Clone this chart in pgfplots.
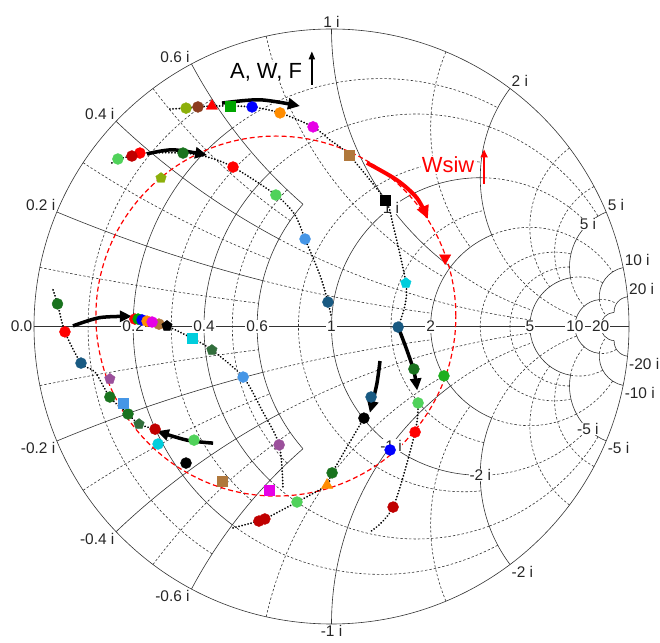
\documentclass[border=0pt]{standalone}
\usepackage{pgfplots}
\pgfplotsset{compat=1.18}
\usetikzlibrary{arrows.meta}
\usepackage{fontspec}
\setmainfont{Liberation Sans}
\definecolor{cred}{RGB}{255,0,0}
\definecolor{cdred}{RGB}{192,0,0}
\definecolor{clgreen}{RGB}{80,210,90}
\definecolor{cgreen}{RGB}{0,165,0}
\definecolor{cmgreen}{RGB}{30,175,30}
\definecolor{cdgreen}{RGB}{25,115,30}
\definecolor{csgreen}{RGB}{50,110,60}
\definecolor{colive}{RGB}{140,175,10}
\definecolor{cbrownD}{RGB}{140,60,30}
\definecolor{cbrownL}{RGB}{176,120,60}
\definecolor{cblue}{RGB}{0,0,255}
\definecolor{clblue}{RGB}{70,150,230}
\definecolor{cteal}{RGB}{25,90,130}
\definecolor{corange}{RGB}{255,140,0}
\definecolor{cmag}{RGB}{230,0,230}
\definecolor{cpurple}{RGB}{155,80,155}
\definecolor{ccyan}{RGB}{0,205,220}
\newcommand\rarc[4][gmaj]{%
  \pgfmathsetmacro\gC{(#2)/(1+(#2))}%
  \pgfmathsetmacro\gR{1/(1+(#2))}%
  \pgfmathsetmacro\gA{180-2*atan((#3)/(1+(#2)))}%
  \pgfmathsetmacro\gB{180-2*atan((#4)/(1+(#2)))}%
  \draw[#1] (\gC,0) ++(\gA:\gR) arc[start angle=\gA, end angle=\gB, radius=\gR];}
\newcommand\xarc[4][gmaj]{%
  \pgfmathsetmacro\gC{1/(#2)}%
  \pgfmathsetmacro\gR{abs(1/(#2))}%
  \pgfmathsetmacro\gS{(#2)>0 ? -90 : 90}%
  \pgfmathsetmacro\gA{\gS-2*atan((#2)/(1+(#3)))}%
  \pgfmathsetmacro\gB{\gS-2*atan((#2)/(1+(#4)))}%
  \draw[#1] (1,\gC) ++(\gA:\gR) arc[start angle=\gA, end angle=\gB, radius=\gR];}
\begin{document}
\begin{tikzpicture}[
  gmaj/.style={draw=black!80, line width=0.6bp},
  gmin/.style={draw=black!80, line width=0.6bp, dash pattern=on 2.4bp off 2bp},
  lab/.style={font=\fontsize{15.5}{17}\selectfont, text=black!85, inner sep=1.5bp},
  dots/.style={smooth, tension=0.5, black, line width=2bp, line cap=round, dash pattern=on 0.01bp off 3.1bp},
  bigarr/.style={smooth, black, line width=3.5bp, -{Triangle[length=12bp,width=11bp]}}]
\begin{scope}[shift={(297.5bp,297.5bp)}, x=297.5bp, y=297.5bp]
  % zone 1
  \foreach \v in {0.1,0.3,0.5}{\rarc[gmin]{\v}{-0.6}{0.6}}
  \foreach \v in {0.1,0.3,0.5,-0.1,-0.3,-0.5}{\xarc[gmin]{\v}{0}{0.6}}
  \foreach \v in {0.2,0.4,0.6}{\rarc[gmaj]{\v}{-0.6}{0.6}}
  \foreach \v in {0.2,0.4,0.6,-0.2,-0.4,-0.6}{\xarc[gmaj]{\v}{0}{0.6}}
  % zone 2
  \foreach \v in {0.2,0.4}{\rarc[gmin]{\v}{0.6}{2}\rarc[gmin]{\v}{-2}{-0.6}}
  \foreach \v in {0.2,0.4,-0.2,-0.4}{\xarc[gmin]{\v}{0.6}{2}}
  \foreach \v in {0.8,1.5}{\rarc[gmin]{\v}{-2}{2}}
  \foreach \v in {0.8,1.5,-0.8,-1.5}{\xarc[gmin]{\v}{0}{2}}
  \foreach \v in {1,2}{\rarc[gmaj]{\v}{-2}{2}}
  \foreach \v in {1,2,-1,-2}{\xarc[gmaj]{\v}{0}{2}}
  % zone 3
  \foreach \v in {3,4}{\rarc[gmin]{\v}{-5}{5}}
  \foreach \v in {3,4,-3,-4}{\xarc[gmin]{\v}{0}{5}}
  \foreach \v in {0.4,1,2}{\rarc[gmin]{\v}{2}{5}\rarc[gmin]{\v}{-5}{-2}}
  \foreach \v in {0.4,1,2,-0.4,-1,-2}{\xarc[gmin]{\v}{2}{5}}
  \rarc[gmaj]{5}{-5}{5}
  \foreach \v in {5,-5}{\xarc[gmaj]{\v}{0}{5}}
  % zone 4
  \foreach \v in {2,5}{\rarc[gmin]{\v}{5}{10}\rarc[gmin]{\v}{-10}{-5}}
  \foreach \v in {2,5,-2,-5}{\xarc[gmin]{\v}{5}{10}}
  \rarc[gmaj]{10}{-10}{10}
  \foreach \v in {10,-10}{\xarc[gmaj]{\v}{0}{10}}
  % zone 5
  \rarc[gmin]{10}{10}{20}\rarc[gmin]{10}{-20}{-10}
  \foreach \v in {10,-10}{\xarc[gmin]{\v}{10}{20}}
  \rarc[gmaj]{20}{-20}{20}
  \foreach \v in {20,-20}{\xarc[gmaj]{\v}{0}{20}}
  % rim and real axis
  \draw[gmaj] (0,0) circle[radius=1];
  \draw[gmaj] (-1,0) -- (1,0);
  % reference circle
  \draw[cred, line width=1.2bp, dash pattern=on 5bp off 3bp] (-0.187,0.035) circle[radius=0.605];
  % real axis labels
  \node[lab, anchor=east] at (-1,0) {0.0};
  \foreach \g/\t in {-0.6667/0.2, -0.4286/0.4, -0.25/0.6, 0/1, 0.3333/2, 0.6667/5, 0.8182/10, 0.9048/20}
    {\node[lab, fill=white, inner sep=1bp] at (\g,0) {\t};}
  % rim labels
  \node[lab, anchor=south east] at (-0.923,0.385) {0.2 i};
  \node[lab, anchor=south east] at (-0.724,0.690) {0.4 i};
  \node[lab, anchor=south east] at (-0.471,0.882) {0.6 i};
  \node[lab, anchor=south] at (0,1) {1 i};
  \node[lab, anchor=south west] at (0.6,0.8) {2 i};
  \node[lab, anchor=south west] at (0.923,0.385) {5 i};
  \node[lab, anchor=south west] at (0.980,0.198) {10 i};
  \node[lab, anchor=south west] at (0.995,0.0997) {20 i};
  \node[lab, anchor=north east] at (-0.923,-0.385) {-0.2 i};
  \node[lab, anchor=north east] at (-0.724,-0.690) {-0.4 i};
  \node[lab, anchor=north east] at (-0.471,-0.882) {-0.6 i};
  \node[lab, anchor=north] at (0,-1) {-1 i};
  \node[lab, anchor=north west] at (0.6,-0.8) {-2 i};
  \node[lab, anchor=north west] at (0.923,-0.385) {-5 i};
  \node[lab, anchor=north west] at (0.980,-0.198) {-10 i};
  \node[lab, anchor=north west] at (0.995,-0.0997) {-20 i};
  % inner labels on r = 1
  \node[lab, fill=white, inner sep=0.6bp] at (0.2,0.4) {1 i};
  \node[lab, fill=white, inner sep=0.6bp] at (0.2,-0.4) {-1 i};
  \node[lab, fill=white, inner sep=0.6bp] at (0.5,-0.5) {-2 i};
  \node[lab, fill=white, inner sep=0.6bp] at (0.862,0.345) {5 i};
  \node[lab, fill=white, inner sep=0.6bp] at (0.862,-0.345) {-5 i};
\end{scope}
\begin{axis}[at={(0,0)}, anchor=south west, width=595bp, height=595bp,
  scale only axis, xmin=-1, xmax=1, ymin=-1, ymax=1, hide axis, clip=false]
% dotted paths
\addplot[dots] coordinates {(-0.543,0.731) (-0.489,0.734) (-0.449,0.738) (-0.402,0.741) (-0.341,0.741) (-0.267,0.738) (-0.173,0.718) (-0.062,0.671) (-0.005,0.627) (0.059,0.576) (0.180,0.425) (0.207,0.341) (0.250,0.146) (0.247,0.072) (0.224,-0.002)};
\addplot[dots] coordinates {(0.291,-0.257) (0.281,-0.355) (0.207,-0.607) (0.129,-0.691)};
\addplot[dots] coordinates {(-0.738,0.550) (-0.718,0.563) (-0.671,0.573) (-0.644,0.583) (-0.499,0.583) (-0.418,0.570) (-0.331,0.536) (-0.187,0.442) (-0.123,0.375) (-0.089,0.294) (-0.039,0.173) (-0.012,0.082) (0.0,0.03)};
\addplot[dots] coordinates {(-0.936,0.123) (-0.921,0.076) (-0.896,-0.018) (-0.842,-0.123) (-0.795,-0.153) (-0.745,-0.237) (-0.684,-0.294) (-0.647,-0.328) (-0.593,-0.345)};
\addplot[dots] coordinates {(-0.553,0.002) (-0.469,-0.039) (-0.402,-0.079) (-0.297,-0.170) (-0.234,-0.281) (-0.176,-0.398) (-0.163,-0.543)};
\addplot[dots] coordinates {(-0.331,-0.677) (-0.244,-0.654) (-0.224,-0.647) (-0.116,-0.590) (-0.015,-0.533) (0.002,-0.492) (0.109,-0.308)};
\addplot[dots] coordinates {(-0.661,0.025) (-0.620,0.018) (-0.580,0.008) (-0.553,0.002)};
% thick arrows
\addplot[bigarr] coordinates {(-0.368,0.751) (-0.240,0.762) (-0.106,0.741)};
\addplot[bigarr] coordinates {(-0.620,0.580) (-0.533,0.594) (-0.418,0.576)};
\addplot[bigarr] coordinates {(-0.869,0.002) (-0.778,0.030) (-0.671,0.034)};
\addplot[bigarr] coordinates {(-0.398,-0.392) (-0.486,-0.382) (-0.587,-0.352)};
\addplot[bigarr] coordinates {(0.224,-0.002) (0.250,-0.070) (0.277,-0.150) (0.288,-0.215)};
\addplot[bigarr] coordinates {(0.163,-0.116) (0.152,-0.195) (0.129,-0.290)};
\addplot[smooth, cred, line width=4bp, -{Triangle[length=13bp,width=12bp]}] coordinates {(0.119,0.550) (0.220,0.492) (0.287,0.432) (0.324,0.362)};
% markers
\pgfplotsset{mk/.style={only marks, mark=*, mark size=5.5bp, mark options={draw=#1, fill=#1}}}
\addplot[mk=cred] coordinates {(-0.661,0.025) (-0.644,0.583) (-0.331,0.536) (-0.896,-0.018) (0.281,-0.355)};
\addplot[mk=cdred] coordinates {(-0.671,0.573) (-0.593,-0.345) (-0.244,-0.654) (-0.224,-0.647) (0.207,-0.607)};
\addplot[mk=cbrownD] coordinates {(-0.449,0.738)};
\addplot[mk=cbrownL] coordinates {(-0.580,0.008)};
\addplot[mk=cbrownL, mark=square*, mark size=5bp] coordinates {(0.059,0.576) (-0.368,-0.519)};
\addplot[mk=colive] coordinates {(-0.489,0.734)};
\addplot[mk=colive, mark=pentagon*] coordinates {(-0.573,0.499)};
\addplot[mk=cred, mark=triangle*, mark size=6.5bp] coordinates {(-0.402,0.741)};
\addplot[only marks, mark=triangle*, mark size=6.5bp, mark options={draw=cred, fill=cred, rotate=180}] coordinates {(0.382,0.230)};
\addplot[mk=cgreen, mark=square*, mark size=5bp] coordinates {(-0.341,0.741)};
\addplot[mk=cgreen] coordinates {(-0.650,0.025)};
\addplot[mk=cblue] coordinates {(-0.267,0.738) (-0.637,0.022) (0.197,-0.415)};
\addplot[mk=corange] coordinates {(-0.173,0.718) (-0.620,0.018)};
\addplot[mk=corange, mark=triangle*, mark size=6.5bp] coordinates {(-0.015,-0.533)};
\addplot[mk=cmag] coordinates {(-0.062,0.671) (-0.603,0.015)};
\addplot[mk=cmag, mark=square*, mark size=5bp] coordinates {(-0.210,-0.550)};
\addplot[mk=black, mark=square*, mark size=5bp] coordinates {(0.180,0.425)};
\addplot[mk=black] coordinates {(-0.489,-0.459) (0.109,-0.308)};
\addplot[mk=black, mark=pentagon*] coordinates {(-0.553,0.002)};
\addplot[mk=ccyan, mark=pentagon*] coordinates {(0.250,0.146)};
\addplot[mk=ccyan, mark=square*, mark size=5bp] coordinates {(-0.469,-0.039)};
\addplot[mk=ccyan] coordinates {(-0.583,-0.395)};
\addplot[mk=cteal] coordinates {(0.224,-0.002) (-0.012,0.082) (-0.842,-0.123) (0.133,-0.237)};
\addplot[mk=cdgreen] coordinates {(0.277,-0.143) (-0.499,0.583) (-0.921,0.076) (-0.745,-0.237) (-0.684,-0.294) (0.002,-0.492)};
\addplot[mk=csgreen, mark=pentagon*] coordinates {(-0.647,-0.328) (-0.402,-0.079)};
\addplot[mk=clgreen] coordinates {(0.291,-0.257) (-0.718,0.563) (-0.187,0.442) (-0.462,-0.382) (-0.116,-0.590)};
\addplot[mk=cmgreen] coordinates {(0.378,-0.166)};
\addplot[mk=clblue] coordinates {(-0.089,0.294) (-0.297,-0.170)};
\addplot[mk=clblue, mark=square*, mark size=5bp] coordinates {(-0.701,-0.257)};
\addplot[mk=cpurple, mark=pentagon*] coordinates {(-0.745,-0.176)};
\addplot[mk=cpurple] coordinates {(-0.176,-0.398)};
\end{axis}
\begin{scope}[shift={(297.5bp,297.5bp)}, x=297.5bp, y=297.5bp]
  \node[fill=white, inner sep=1bp, font=\fontsize{22}{24}\selectfont] at (-0.220,0.855) {A, W, F};
  \draw[black, line width=1.6bp, -{Triangle[length=8bp,width=6bp]}] (-0.066,0.812) -- (-0.066,0.925);
  \node[fill=white, inner sep=1bp, text=cred, font=\fontsize{22}{24}\selectfont] at (0.392,0.543) {Wsiw};
  \draw[cred, line width=2.2bp, -{Triangle[length=8bp,width=7bp]}] (0.513,0.480) -- (0.513,0.595);
\end{scope}
\pgfresetboundingbox
\path[use as bounding box] (-34bp,-19bp) rectangle (626bp,624bp);
\end{tikzpicture}
\end{document}
